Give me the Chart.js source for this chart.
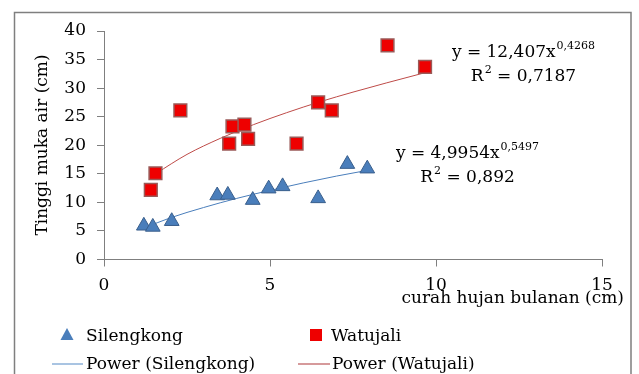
<!DOCTYPE html>
<html>
<head>
<meta charset="utf-8">
<script src="https://cdn.jsdelivr.net/npm/chart.js@4.4.0/dist/chart.umd.min.js"></script>
<style>
    html, body { margin: 0; padding: 0; background: #fff; }
</style>
</head>
<body>
<canvas id="myChart" width="639" height="374"></canvas>
<script>
// data
const silengkongX = [1.2, 1.47, 2.04, 3.41, 3.73, 4.48, 4.96, 5.38, 6.45, 7.33, 7.93];
const silengkongY = [5.9, 5.7, 6.7, 11.2, 11.3, 10.4, 12.4, 12.8, 10.7, 16.7, 15.9];
const watujaliX = [1.41, 1.55, 2.3, 3.77, 3.87, 4.23, 4.34, 5.8, 6.45, 6.86, 8.54, 9.67];
const watujaliY = [12.2, 15.1, 26.1, 20.3, 23.3, 23.6, 21.1, 20.3, 27.5, 26.1, 37.5, 33.7];
// trend lines, points
const powerSilX = [1.2, 2, 3, 4, 5, 6, 7, 7.93];
const powerSilY = [5.5, 7.3, 9.1, 10.7, 12.1, 13.4, 14.6, 15.6];
const powerWatX = [1.55, 2.5, 3.5, 4.5, 5.5, 6.5, 7.5, 8.5, 9.67];
const powerWatY = [15.0, 18.4, 21.2, 23.6, 25.7, 27.6, 29.3, 30.9, 32.7];
const xTickLabels = [0, 5, 10, 15];
const yTickLabels = [0, 5, 10, 15, 20, 25, 30, 35, 40];
const seriesNames = ["Silengkong", "Watujali", "Power (Silengkong)", "Power (Watujali)"];
const xTitle = "curah hujan bulanan (cm)";
const yTitle = "Tinggi muka air (cm)";
const eqWatujali = ["y = 12,407x", "0,4268", "R", "2", " = 0,7187"];
const eqSilengkong = ["y = 4,9954x", "0,5497", "R", "2", " = 0,892"];

const FONT = "'DejaVu Serif', serif";
const FS = 17;
const BLUE = "#4A7EBB";
const BLUE_DARK = "#3A5F8C";
const RED = "#EE0000";
const RED_BORDER = "#9A5A58";
const GRAY = "#7F7F7F";

function toPoints(xs, ys) {
    return xs.map((x, i) => ({x: x, y: ys[i]}));
}

// draws a main string followed by a superscript, centred on cx
function drawWithSup(ctx, main, sup, tail, cx, cy) {
    ctx.font = FS + "px " + FONT;
    const w1 = ctx.measureText(main).width;
    const w3 = tail ? ctx.measureText(tail).width : 0;
    ctx.font = "11px " + FONT;
    const w2 = ctx.measureText(sup).width;
    let x = cx - (w1 + w2 + w3) / 2;
    ctx.textAlign = "left";
    ctx.textBaseline = "middle";
    ctx.font = FS + "px " + FONT;
    ctx.fillText(main, x, cy);
    x += w1;
    ctx.font = "11px " + FONT;
    ctx.fillText(sup, x + 1, cy - 7);
    x += w2 + 1;
    if (tail) {
        ctx.font = FS + "px " + FONT;
        ctx.fillText(tail, x, cy);
    }
}

const extras = {
    id: "extras",
    afterDraw(chart) {
        const ctx = chart.ctx;
        ctx.save();
        // outer frame
        ctx.strokeStyle = GRAY;
        ctx.lineWidth = 1.5;
        ctx.beginPath();
        ctx.moveTo(14.5, 380);
        ctx.lineTo(14.5, 12.5);
        ctx.lineTo(631, 12.5);
        ctx.lineTo(631, 380);
        ctx.stroke();

        ctx.fillStyle = "#000";
        // axis titles
        ctx.font = FS + "px " + FONT;
        ctx.textAlign = "right";
        ctx.textBaseline = "middle";
        ctx.fillText(xTitle, 624, 299);
        ctx.save();
        ctx.translate(43, 145);
        ctx.rotate(-Math.PI / 2);
        ctx.textAlign = "center";
        ctx.fillText(yTitle, 0, 0);
        ctx.restore();

        // trend line equations
        drawWithSup(ctx, eqWatujali[0], eqWatujali[1], null, 523, 53);
        drawWithSup(ctx, eqWatujali[2], eqWatujali[3], eqWatujali[4], 523, 77);
        drawWithSup(ctx, eqSilengkong[0], eqSilengkong[1], null, 467, 154);
        drawWithSup(ctx, eqSilengkong[2], eqSilengkong[3], eqSilengkong[4], 467, 178);

        // legend
        ctx.fillStyle = BLUE;
        ctx.beginPath();
        ctx.moveTo(67, 328);
        ctx.lineTo(73.5, 340);
        ctx.lineTo(60.5, 340);
        ctx.closePath();
        ctx.fill();
        ctx.fillStyle = RED;
        ctx.fillRect(310, 329, 12, 12);
        ctx.lineWidth = 1.5;
        ctx.strokeStyle = "#8DB0D8";
        ctx.beginPath();
        ctx.moveTo(52, 364);
        ctx.lineTo(83, 364);
        ctx.stroke();
        ctx.strokeStyle = "#C9797A";
        ctx.beginPath();
        ctx.moveTo(298, 364);
        ctx.lineTo(330, 364);
        ctx.stroke();
        ctx.fillStyle = "#000";
        ctx.font = FS + "px " + FONT;
        ctx.textAlign = "left";
        ctx.textBaseline = "middle";
        ctx.fillText(seriesNames[0], 86, 337);
        ctx.fillText(seriesNames[1], 331, 337);
        ctx.fillText(seriesNames[2], 86, 365);
        ctx.fillText(seriesNames[3], 332, 365);
        ctx.restore();
    }
};

const canvas = document.getElementById("myChart");
const ctx = canvas.getContext("2d");

const chart = new Chart(ctx, {
    type: "scatter",
    data: {
        datasets: [
            {
                label: seriesNames[2],
                data: toPoints(powerSilX, powerSilY),
                showLine: true,
                cubicInterpolationMode: "monotone",
                borderColor: BLUE,
                borderWidth: 1,
                pointRadius: 0,
                order: 3
            },
            {
                label: seriesNames[3],
                data: toPoints(powerWatX, powerWatY),
                showLine: true,
                cubicInterpolationMode: "monotone",
                borderColor: "#BE4B48",
                borderWidth: 1,
                pointRadius: 0,
                order: 4
            },
            {
                label: seriesNames[0],
                data: toPoints(silengkongX, silengkongY),
                pointStyle: "triangle",
                pointRadius: 8.5,
                backgroundColor: BLUE,
                borderColor: BLUE_DARK,
                borderWidth: 1,
                order: 1
            },
            {
                label: seriesNames[1],
                data: toPoints(watujaliX, watujaliY),
                pointStyle: "rect",
                pointRadius: 9,
                backgroundColor: RED,
                borderColor: RED_BORDER,
                borderWidth: 1.5,
                order: 2
            }
        ]
    },
    options: {
        responsive: false,
        animation: false,
        layout: {padding: {top: 31, right: 37, left: 0, bottom: 0}},
        plugins: {
            legend: {display: false},
            tooltip: {enabled: false}
        },
        scales: {
            x: {
                type: "linear",
                min: 0,
                max: 15,
                afterBuildTicks: (s) => { s.ticks = xTickLabels.map(v => ({value: v})); },
                afterFit: (s) => { s.height = 114.5; },
                ticks: {color: "#000", font: {family: FONT, size: FS}, padding: 9},
                grid: {drawOnChartArea: false, tickLength: 7, color: GRAY},
                border: {color: GRAY}
            },
            y: {
                min: 0,
                max: 40,
                afterBuildTicks: (s) => { s.ticks = yTickLabels.map(v => ({value: v})); },
                afterFit: (s) => { s.width = 104; },
                ticks: {color: "#000", font: {family: FONT, size: FS}, padding: 11},
                grid: {drawOnChartArea: false, tickLength: 7, color: GRAY},
                border: {color: GRAY}
            }
        }
    },
    plugins: [extras]
});
</script>
</body>
</html>
